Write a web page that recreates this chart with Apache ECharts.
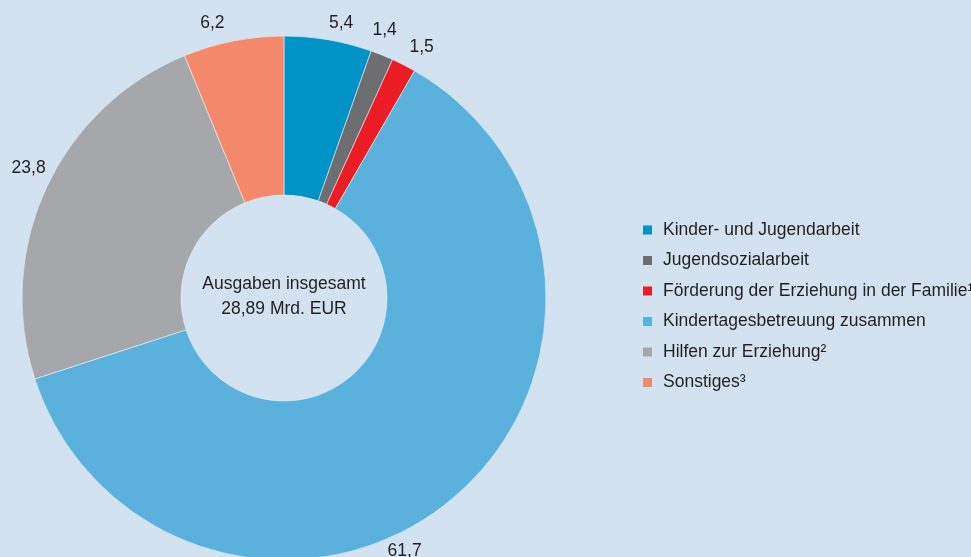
<!DOCTYPE html>
<html>
<head>
<meta charset="utf-8">
<script src="https://cdn.jsdelivr.net/npm/echarts@6/dist/echarts.min.js"></script>
<style>
html,body{margin:0;padding:0;background:#d2e2f0;}
#chart{width:971px;height:557px;}
</style>
</head>
<body>
<div id="chart"></div>
<script>
const categories = [
  'Kinder- und Jugendarbeit',
  'Jugendsozialarbeit',
  'Förderung der Erziehung in der Familie¹',
  'Kindertagesbetreuung zusammen',
  'Hilfen zur Erziehung²',
  'Sonstiges³'
];
const values = [5.4, 1.4, 1.5, 61.7, 23.8, 6.2];
const colors = ['#0093c8', '#6d6e71', '#ec1c24', '#5ab2dc', '#a6a7aa', '#f4886b'];
const centerText = ['Ausgaben insgesamt', '28,89 Mrd. EUR'];
// small label nudges (style only), in px, per slice order
const labelNudge = [[-5, -13], [-16, -21], [-1, -14], [-69, 47], [8, -18], [-3, -14]];

const FONT = '"Liberation Sans", Arial, sans-serif';
const FS = 17.5;
const chart = echarts.init(document.getElementById('chart'), null, {renderer: 'canvas'});
chart.setOption({
  backgroundColor: '#d2e2f0',
  animation: false,
  color: colors,
  legend: {
    orient: 'vertical',
    left: 638,
    top: 215,
    icon: 'rect',
    itemWidth: 9,
    itemHeight: 9,
    itemGap: 10.5,
    itemStyle: {borderWidth: 0},
    textStyle: {fontFamily: FONT, fontSize: FS, lineHeight: 20, color: '#231f20', padding: [0, 0, 0, 6]},
    data: categories
  },
  graphic: [{
    type: 'text',
    x: 284, y: 297,
    style: {
      text: centerText.join('\n'),
      align: 'center',
      verticalAlign: 'middle',
      fontFamily: FONT, fontSize: FS, lineHeight: 25, fill: '#231f20'
    }
  }],
  series: [{
    type: 'pie',
    center: [284, 298],
    radius: [103, 262],
    startAngle: 90,
    clockwise: true,
    avoidLabelOverlap: false,
    itemStyle: {borderColor: '#e8f0f7', borderWidth: 0.6},
    label: {
      show: true,
      position: 'outside',
      overflow: 'none',
      fontFamily: FONT, fontSize: FS, color: '#231f20',
      formatter: p => p.value.toFixed(1).replace('.', ',')
    },
    labelLine: {show: false, length: 4, length2: 0},
    labelLayout: p => ({
      dx: labelNudge[p.dataIndex][0],
      dy: labelNudge[p.dataIndex][1],
      hideOverlap: false
    }),
    data: categories.map((c, i) => ({name: c, value: values[i]}))
  }]
});
</script>
</body>
</html>
